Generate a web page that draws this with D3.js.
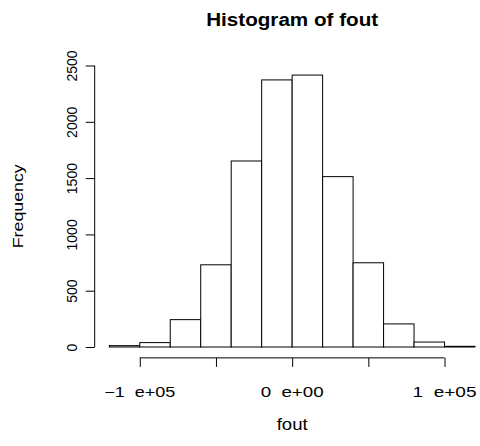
<!DOCTYPE html>
<html>
<head>
<meta charset="utf-8">
<script src="https://cdn.jsdelivr.net/npm/d3@7"></script>
<style>
  body { margin: 0; background: #fff; }
  text { font-family: "Liberation Sans", Arial, Helvetica, sans-serif; fill: #000; }
</style>
</head>
<body>
<div id="chart"></div>
<script>
const binEdges = [-120000, -100000, -80000, -60000, -40000, -20000, 0, 20000, 40000, 60000, 80000, 100000, 120000];
const counts = [12, 39, 243, 730, 1652, 2372, 2415, 1513, 748, 205, 44, 6];
const yTicks = [0, 500, 1000, 1500, 2000, 2500];
const xTicks = [-100000, -50000, 0, 50000, 100000];
const xTickLabels = [
  { value: -100000, label: "\u22121  e+05", len: 71 },
  { value: 0, label: "0  e+00", len: 63 },
  { value: 100000, label: "1  e+05", len: 64 }
];

const width = 480;
const height = 446;

const bins = counts.map((c, i) => ({ x0: binEdges[i], x1: binEdges[i + 1], count: c }));

const svg = d3.select("#chart").append("svg")
  .attr("width", width)
  .attr("height", height);

// plot region edges (R style, 4% padding)
const xScale = d3.scaleLinear().domain([-120000, 120000]).range([109.3, 475]);
const yScale = d3.scaleLinear().domain([0, 2500]).range([347, 65.5]);
const plotLeft = xScale(-120000 - 0.04 * 240000);
const plotRight = xScale(120000 + 0.04 * 240000);
const plotBottom = yScale(-0.04 * 2415);

svg.selectAll(".bar")
  .data(bins)
  .enter().append("rect")
  .attr("class", "bar")
  .attr("x", d => xScale(d.x0))
  .attr("y", d => yScale(d.count))
  .attr("width", d => xScale(d.x1) - xScale(d.x0))
  .attr("height", d => yScale(0) - yScale(d.count))
  .style("fill", "#fff")
  .style("stroke", "#000")
  .style("stroke-width", 1);

// y axis
const yAxis = svg.append("g")
  .attr("transform", `translate(${plotLeft},0)`)
  .call(d3.axisLeft(yScale).tickValues(yTicks).tickSize(9).tickFormat(d3.format("d")));
yAxis.select(".domain").attr("d", `M0,${yScale(0)}V${yScale(2500)}`);
yAxis.selectAll("line, path").style("stroke", "#000");
yAxis.selectAll(".tick text")
  .attr("x", 0).attr("dy", 0)
  .attr("transform", "translate(-18,0) rotate(-90)")
  .attr("text-anchor", "middle")
  .style("font-size", "14px");

// x axis
const xAxis = svg.append("g")
  .attr("transform", `translate(0,${plotBottom})`)
  .call(d3.axisBottom(xScale).tickValues(xTicks).tickSize(9).tickFormat(""));
xAxis.select(".domain").attr("d", `M${xScale(-100000)},0H${xScale(100000)}`);
xAxis.selectAll("line, path").style("stroke", "#000");

svg.selectAll(".x-label")
  .data(xTickLabels)
  .enter().append("text")
  .attr("class", "x-label")
  .attr("x", d => xScale(d.value))
  .attr("y", 397)
  .attr("text-anchor", "middle")
  .attr("textLength", d => d.len)
  .attr("lengthAdjust", "spacingAndGlyphs")
  .style("font-size", "14px")
  .style("white-space", "pre")
  .text(d => d.label);

svg.append("text")
  .attr("x", (plotLeft + plotRight) / 2)
  .attr("y", 430)
  .attr("text-anchor", "middle")
  .attr("textLength", 31)
  .attr("lengthAdjust", "spacingAndGlyphs")
  .style("font-size", "16px")
  .text("fout");

svg.append("text")
  .attr("transform", `translate(23,${(yScale(0) + yScale(2500)) / 2}) rotate(-90)`)
  .attr("text-anchor", "middle")
  .attr("textLength", 84)
  .attr("lengthAdjust", "spacingAndGlyphs")
  .style("font-size", "15px")
  .text("Frequency");

svg.append("text")
  .attr("x", (plotLeft + plotRight) / 2)
  .attr("y", 26)
  .attr("text-anchor", "middle")
  .attr("textLength", 172)
  .attr("lengthAdjust", "spacingAndGlyphs")
  .style("font-size", "18px")
  .style("font-weight", "bold")
  .text("Histogram of fout");
</script>
</body>
</html>
